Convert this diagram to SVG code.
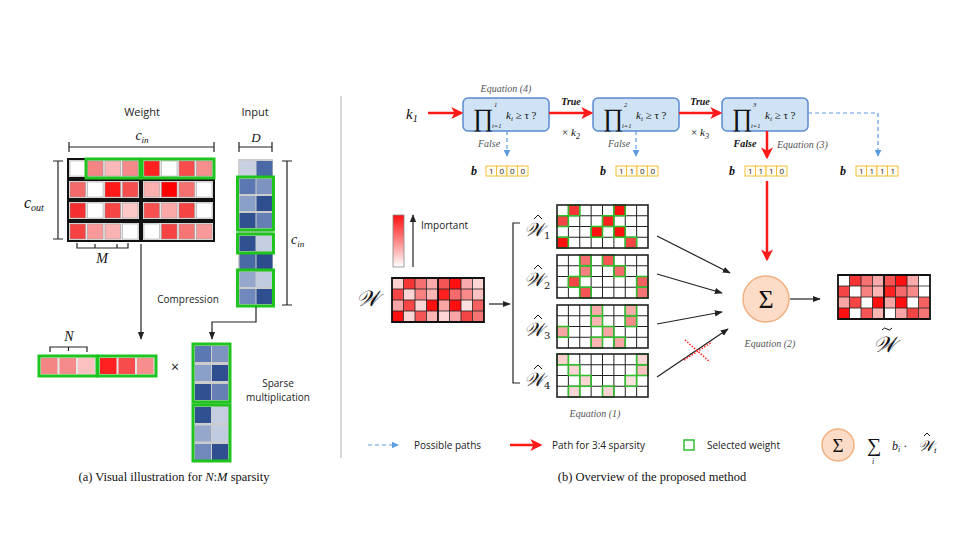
<svg xmlns="http://www.w3.org/2000/svg" width="960" height="540" viewBox="0 0 960 540">
<style>
.sans{font-family:"Open Sans","Liberation Sans",sans-serif;fill:#222}
.serif{font-family:"Liberation Serif","DejaVu Serif",serif;fill:#111}
.it{font-style:italic}
.bd{font-weight:bold}
.eq{font-family:"Liberation Serif","DejaVu Serif",serif;font-style:italic;fill:#555;font-size:10px}
.scr{font-family:"DejaVu Serif","Liberation Serif",serif;font-style:italic;fill:#111}
.acc{fill:none;stroke:#111;stroke-width:1;stroke-linejoin:miter}
.grp{fill:#e6e6e6;stroke:#111;stroke-width:2}
.grn{fill:none;stroke:#1fc41f;stroke-width:3}
.sel{fill:none;stroke:#2fbf2f;stroke-width:1.6}
.box{fill:#cfe3f4;stroke:#5b8bd0;stroke-width:1.5}
.bit{fill:#fffdf2;stroke:#f2c038;stroke-width:1}
.bt{font-family:"Open Sans","Liberation Sans",sans-serif;font-size:8px;fill:#222;text-anchor:middle}
.blk{stroke:#222;stroke-width:1.2;fill:none}
.red{stroke:#ff1a1a;stroke-width:2.5;fill:none}
.blue{stroke:#5b9be0;stroke-width:1.2;fill:none;stroke-dasharray:4 3}
.grid{fill:none;stroke:#222;stroke-width:1}
</style>
<defs>
<marker id="mb" markerUnits="userSpaceOnUse" markerWidth="8" markerHeight="8" viewBox="0 0 10 10" refX="9" refY="5" orient="auto"><path d="M0,1 L10,5 L0,9 z" fill="#222"/></marker>
<marker id="mr" markerUnits="userSpaceOnUse" markerWidth="12" markerHeight="12" viewBox="0 0 10 10" refX="8" refY="5" orient="auto"><path d="M0,0 L10,5 L0,10 L2.5,5 z" fill="#ff1a1a"/></marker>
<marker id="mbl" markerUnits="userSpaceOnUse" markerWidth="7" markerHeight="7" viewBox="0 0 10 10" refX="9" refY="5" orient="auto"><path d="M0,0 L10,5 L0,10 z" fill="#5b9be0"/></marker>
<linearGradient id="imp" x1="0" y1="0" x2="0" y2="1"><stop offset="0" stop-color="#ff1010"/><stop offset="1" stop-color="#ffffff"/></linearGradient>
<path id="gH" d="M11.375 0V43M22.75 0V43M34.125 0V43M45.5 0V43M56.875 0V43M68.25 0V43M79.625 0V43M0 10.75H91M0 21.5H91M0 32.25H91" class="grid"/>
<rect id="bH" width="91" height="43" fill="none" stroke="#222" stroke-width="1.6"/>
<path id="gW" d="M11.5 0V44M23 0V44M34.5 0V44M57.5 0V44M69 0V44M80.5 0V44M0 11H92M0 22H92M0 33H92" fill="none" stroke="#222" stroke-width="0.8"/>
<path id="bW" d="M0 0H92V44H0ZM46 0V44" fill="none" stroke="#111" stroke-width="1.8"/>
</defs>

<!-- ============ LEFT PANEL ============ -->
<g id="left-labels">
<text x="142" y="116" class="sans" font-size="11" text-anchor="middle">Weight</text>
<text x="255" y="116" class="sans" font-size="11" text-anchor="middle">Input</text>
<text x="142" y="140" class="serif it" font-size="14" text-anchor="middle">c<tspan font-size="9" dy="3">in</tspan></text>
<path d="M69 147H214M69 142V152M214 142V152" class="blk"/>
<text x="256" y="142" class="serif it" font-size="13" text-anchor="middle">D</text>
<path d="M239 147H272M239 142V152M272 142V152" class="blk"/>
<text x="24" y="208" class="serif it" font-size="16">c<tspan font-size="10" dy="3">out</tspan></text>
<path d="M58 161V239M53 161H63M53 239H63" class="blk"/>
<text x="291" y="244" class="serif it" font-size="14">c<tspan font-size="9" dy="3">in</tspan></text>
<path d="M287 161V305M282 161H292M282 305H292" class="blk"/>
<path d="M77 243V248H128V243M95 248V244M117 248V244" class="blk"/>
<text x="102" y="263" class="serif it" font-size="14" text-anchor="middle">M</text>
<text x="188" y="303" class="sans" font-size="10" text-anchor="middle">Compression</text>
<text x="175" y="372" class="sans" font-size="14" text-anchor="middle">×</text>
<text x="278" y="387" class="sans" font-size="10" text-anchor="middle">Sparse</text>
<text x="278" y="401" class="sans" font-size="10" text-anchor="middle">multiplication</text>
<path d="M50 352V347H87V352M68.5 347V351" class="blk"/>
<text x="69" y="341" class="serif it" font-size="14" text-anchor="middle">N</text>
<text x="174" y="481" class="serif" font-size="12.5" text-anchor="middle">(a) Visual illustration for <tspan font-style="italic">N</tspan>:<tspan font-style="italic">M</tspan> sparsity</text>
</g>

<g id="weight-matrix">
<rect x="68" y="159" width="72" height="19" class="grp"/><rect x="142" y="159" width="72" height="19" class="grp"/>
<rect x="68" y="180" width="72" height="19" class="grp"/><rect x="142" y="180" width="72" height="19" class="grp"/>
<rect x="68" y="201" width="72" height="19" class="grp"/><rect x="142" y="201" width="72" height="19" class="grp"/>
<rect x="68" y="222" width="72" height="19" class="grp"/><rect x="142" y="222" width="72" height="19" class="grp"/>
<g stroke="#999" stroke-width="0.5">
<rect x="70" y="161" width="15.5" height="15" fill="#ffffff"/><rect x="87.5" y="161" width="15.5" height="15" fill="#f38585"/><rect x="105" y="161" width="15.5" height="15" fill="#fbb8b8"/><rect x="122.5" y="161" width="15.5" height="15" fill="#f48a8a"/>
<rect x="144" y="161" width="15.5" height="15" fill="#ff2020"/><rect x="161.5" y="161" width="15.5" height="15" fill="#ffffff"/><rect x="179" y="161" width="15.5" height="15" fill="#f64c4c"/><rect x="196.5" y="161" width="15.5" height="15" fill="#f68e8e"/>
<rect x="70" y="182" width="15.5" height="15" fill="#f46a6a"/><rect x="87.5" y="182" width="15.5" height="15" fill="#ffffff"/><rect x="105" y="182" width="15.5" height="15" fill="#ff1a1a"/><rect x="122.5" y="182" width="15.5" height="15" fill="#f54e4e"/>
<rect x="144" y="182" width="15.5" height="15" fill="#fbb0b0"/><rect x="161.5" y="182" width="15.5" height="15" fill="#ff0000"/><rect x="179" y="182" width="15.5" height="15" fill="#f57070"/><rect x="196.5" y="182" width="15.5" height="15" fill="#ffffff"/>
<rect x="70" y="203" width="15.5" height="15" fill="#f52f2f"/><rect x="87.5" y="203" width="15.5" height="15" fill="#ffffff"/><rect x="105" y="203" width="15.5" height="15" fill="#f54545"/><rect x="122.5" y="203" width="15.5" height="15" fill="#fcc8c8"/>
<rect x="144" y="203" width="15.5" height="15" fill="#f65050"/><rect x="161.5" y="203" width="15.5" height="15" fill="#fba8a8"/><rect x="179" y="203" width="15.5" height="15" fill="#f54444"/><rect x="196.5" y="203" width="15.5" height="15" fill="#ffffff"/>
<rect x="70" y="224" width="15.5" height="15" fill="#f54343"/><rect x="87.5" y="224" width="15.5" height="15" fill="#f89898"/><rect x="105" y="224" width="15.5" height="15" fill="#fbb4b4"/><rect x="122.5" y="224" width="15.5" height="15" fill="#ffffff"/>
<rect x="144" y="224" width="15.5" height="15" fill="#ffffff"/><rect x="161.5" y="224" width="15.5" height="15" fill="#f64444"/><rect x="179" y="224" width="15.5" height="15" fill="#f57575"/><rect x="196.5" y="224" width="15.5" height="15" fill="#f89a9a"/>
</g>
<rect x="86" y="159" width="54" height="19" class="grn"/>
<rect x="142" y="159" width="72" height="19" class="grn"/>
</g>

<g id="input-column">
<rect x="238" y="159" width="35" height="147" fill="#cccccc"/>
<g>
<rect x="239.5" y="161" width="16" height="15" fill="#c8d0e2"/><rect x="256.5" y="161" width="16" height="15" fill="#4a69a6"/>
<rect x="239.5" y="179" width="16" height="15" fill="#5b78b2"/><rect x="256.5" y="179" width="16" height="15" fill="#7f93c0"/>
<rect x="239.5" y="196" width="16" height="15" fill="#8aa0c9"/><rect x="256.5" y="196" width="16" height="15" fill="#2f4f90"/>
<rect x="239.5" y="213" width="16" height="15" fill="#30508f"/><rect x="256.5" y="213" width="16" height="15" fill="#6680b5"/>
<rect x="239.5" y="236" width="16" height="15" fill="#30508f"/><rect x="256.5" y="236" width="16" height="15" fill="#c5cde0"/>
<rect x="239.5" y="254" width="16" height="15" fill="#4a6aa5"/><rect x="256.5" y="254" width="16" height="15" fill="#2c4c8c"/>
<rect x="239.5" y="272" width="16" height="15" fill="#95a8cc"/><rect x="256.5" y="272" width="16" height="15" fill="#c0cbe0"/>
<rect x="239.5" y="289" width="16" height="15" fill="#7088bb"/><rect x="256.5" y="289" width="16" height="15" fill="#2f4f90"/>
</g>
<rect x="237.5" y="177" width="36" height="53" class="grn"/>
<rect x="237.5" y="234" width="36" height="19" class="grn"/>
<rect x="237.5" y="270" width="36" height="36" class="grn"/>
</g>

<g id="compressed-weight">
<rect x="39" y="356" width="58" height="20" fill="#e6e6e6"/>
<rect x="98" y="356" width="58" height="20" fill="#e6e6e6"/>
<rect x="41" y="358" width="16.5" height="16" fill="#f38585"/><rect x="59.5" y="358" width="16.5" height="16" fill="#f48a8a"/><rect x="78" y="358" width="16.5" height="16" fill="#fbc0c0"/>
<rect x="100" y="358" width="16.5" height="16" fill="#ff2020"/><rect x="118.5" y="358" width="16.5" height="16" fill="#f64c4c"/><rect x="137" y="358" width="16.5" height="16" fill="#f68e8e"/>
<rect x="39" y="356" width="58" height="20" class="grn"/>
<rect x="98" y="356" width="58" height="20" class="grn"/>
</g>

<g id="sparse-input">
<rect x="193" y="344" width="37" height="117" fill="#cccccc"/>
<rect x="195" y="346" width="16" height="16" fill="#5b78b2"/><rect x="212" y="346" width="16" height="16" fill="#7f93c0"/>
<rect x="195" y="365" width="16" height="16" fill="#8aa0c9"/><rect x="212" y="365" width="16" height="16" fill="#2f4f90"/>
<rect x="195" y="384" width="16" height="16" fill="#30508f"/><rect x="212" y="384" width="16" height="16" fill="#6680b5"/>
<rect x="195" y="407" width="16" height="16" fill="#30508f"/><rect x="212" y="407" width="16" height="16" fill="#c5cde0"/>
<rect x="195" y="425.5" width="16" height="16" fill="#95a8cc"/><rect x="212" y="425.5" width="16" height="16" fill="#c0cbe0"/>
<rect x="195" y="444" width="16" height="16" fill="#7088bb"/><rect x="212" y="444" width="16" height="16" fill="#2f4f90"/>
<rect x="193" y="344" width="37" height="58" class="grn"/>
<rect x="193" y="405" width="37" height="56" class="grn"/>
</g>

<g id="left-connectors">
<path d="M141 244V339" class="blk" marker-end="url(#mb)"/>
<path d="M256 307V322H212V339" class="blk" marker-end="url(#mb)"/>
</g>

<line x1="341" y1="96" x2="341" y2="458" stroke="#999" stroke-width="0.8"/>

<!-- ============ RIGHT PANEL ============ -->
<g id="k1"><text x="406" y="119" class="serif it" font-size="15">k<tspan font-size="10" dy="3">1</tspan></text></g>

<g id="box1">
<rect x="463" y="98" width="86" height="33" rx="5" class="box"/>
<text x="473" y="126" class="serif" font-size="25">∏</text>
<text x="494" y="107" class="serif it" font-size="6.5">1</text>
<text x="492" y="128" class="serif it" font-size="6.5">i=1</text>
<text x="506" y="119" class="serif it" font-size="11">k<tspan font-size="7" dy="2">i</tspan><tspan dy="-2" font-style="normal"> ≥ τ ?</tspan></text>
<text x="506" y="92" class="eq" text-anchor="middle">Equation (4)</text>
</g>
<g id="box2">
<rect x="593" y="98" width="86" height="33" rx="5" class="box"/>
<text x="603" y="126" class="serif" font-size="25">∏</text>
<text x="624" y="107" class="serif it" font-size="6.5">2</text>
<text x="622" y="128" class="serif it" font-size="6.5">i=1</text>
<text x="636" y="119" class="serif it" font-size="11">k<tspan font-size="7" dy="2">i</tspan><tspan dy="-2" font-style="normal"> ≥ τ ?</tspan></text>
</g>
<g id="box3">
<rect x="722" y="98" width="86" height="33" rx="5" class="box"/>
<text x="732" y="126" class="serif" font-size="25">∏</text>
<text x="753" y="107" class="serif it" font-size="6.5">3</text>
<text x="751" y="128" class="serif it" font-size="6.5">i=1</text>
<text x="765" y="119" class="serif it" font-size="11">k<tspan font-size="7" dy="2">i</tspan><tspan dy="-2" font-style="normal"> ≥ τ ?</tspan></text>
</g>

<g id="flow-labels">
<text x="571" y="105" class="serif it bd" font-size="10" text-anchor="middle">True</text>
<text x="571" y="136" class="serif" font-size="11" text-anchor="middle">× <tspan font-style="italic">k</tspan><tspan font-size="8" dy="3" font-style="italic">2</tspan></text>
<text x="700" y="105" class="serif it bd" font-size="10" text-anchor="middle">True</text>
<text x="700" y="136" class="serif" font-size="11" text-anchor="middle">× <tspan font-style="italic">k</tspan><tspan font-size="8" dy="3" font-style="italic">3</tspan></text>
<text x="489" y="147" class="eq" font-size="9.5" text-anchor="middle">False</text>
<text x="619" y="147" class="eq" font-size="9.5" text-anchor="middle">False</text>
<text x="745" y="147" class="serif it bd" font-size="10" text-anchor="middle">False</text>
<text x="777" y="148" class="eq">Equation (3)</text>
</g>

<g id="bits1">
<text x="474" y="175" class="serif it bd" font-size="12" text-anchor="middle">b</text>
<rect x="486" y="166" width="10.5" height="10" class="bit"/><rect x="496.5" y="166" width="10.5" height="10" class="bit"/><rect x="507" y="166" width="10.5" height="10" class="bit"/><rect x="517.5" y="166" width="10.5" height="10" class="bit"/>
<text x="491.25" y="174" class="bt">1</text><text x="501.75" y="174" class="bt">0</text><text x="512.25" y="174" class="bt">0</text><text x="522.75" y="174" class="bt">0</text>
</g>
<g id="bits2">
<text x="603" y="175" class="serif it bd" font-size="12" text-anchor="middle">b</text>
<rect x="616" y="166" width="10.5" height="10" class="bit"/><rect x="626.5" y="166" width="10.5" height="10" class="bit"/><rect x="637" y="166" width="10.5" height="10" class="bit"/><rect x="647.5" y="166" width="10.5" height="10" class="bit"/>
<text x="621.25" y="174" class="bt">1</text><text x="631.75" y="174" class="bt">1</text><text x="642.25" y="174" class="bt">0</text><text x="652.75" y="174" class="bt">0</text>
</g>
<g id="bits3">
<text x="732" y="175" class="serif it bd" font-size="12" text-anchor="middle">b</text>
<rect x="745" y="166" width="10.5" height="10" class="bit"/><rect x="755.5" y="166" width="10.5" height="10" class="bit"/><rect x="766" y="166" width="10.5" height="10" class="bit"/><rect x="776.5" y="166" width="10.5" height="10" class="bit"/>
<text x="750.25" y="174" class="bt">1</text><text x="760.75" y="174" class="bt">1</text><text x="771.25" y="174" class="bt">1</text><text x="781.75" y="174" class="bt">0</text>
</g>
<g id="bits4">
<text x="843" y="175" class="serif it bd" font-size="12" text-anchor="middle">b</text>
<rect x="856" y="166" width="10.5" height="10" class="bit"/><rect x="866.5" y="166" width="10.5" height="10" class="bit"/><rect x="877" y="166" width="10.5" height="10" class="bit"/><rect x="887.5" y="166" width="10.5" height="10" class="bit"/>
<text x="861.25" y="174" class="bt">1</text><text x="871.75" y="174" class="bt">1</text><text x="882.25" y="174" class="bt">1</text><text x="892.75" y="174" class="bt">1</text>
</g>

<g id="importance">
<rect x="393" y="215" width="11" height="52" fill="url(#imp)" stroke="#888" stroke-width="0.8"/>
<path d="M413 267V215" class="blk" stroke-width="1" marker-end="url(#mb)"/>
<text x="421" y="229" class="sans" font-size="10">Important</text>
</g>

<g id="W">
<text x="356" y="306" class="scr" font-size="22">𝒲</text>
<g transform="translate(392,278)">
<rect width="92" height="44" fill="#fff"/>
<rect x="0" y="0" width="11.5" height="11" fill="#fdd0d0"/><rect x="11.5" y="0" width="11.5" height="11" fill="#f53535"/><rect x="23" y="0" width="11.5" height="11" fill="#f57070"/><rect x="34.5" y="0" width="11.5" height="11" fill="#f9aaaa"/><rect x="46" y="0" width="11.5" height="11" fill="#f55555"/><rect x="57.5" y="0" width="11.5" height="11" fill="#ff1010"/><rect x="69" y="0" width="11.5" height="11" fill="#f9aaaa"/><rect x="80.5" y="0" width="11.5" height="11" fill="#fdd5d5"/>
<rect x="0" y="11" width="11.5" height="11" fill="#f54545"/><rect x="11.5" y="11" width="11.5" height="11" fill="#fdd5d5"/><rect x="23" y="11" width="11.5" height="11" fill="#f78080"/><rect x="34.5" y="11" width="11.5" height="11" fill="#fbb5b5"/><rect x="46" y="11" width="11.5" height="11" fill="#ff2020"/><rect x="57.5" y="11" width="11.5" height="11" fill="#f56a6a"/><rect x="69" y="11" width="11.5" height="11" fill="#f88a8a"/><rect x="80.5" y="11" width="11.5" height="11" fill="#fbc0c0"/>
<rect x="0" y="22" width="11.5" height="11" fill="#f9a5a5"/><rect x="11.5" y="22" width="11.5" height="11" fill="#f54545"/><rect x="23" y="22" width="11.5" height="11" fill="#fdd5d5"/><rect x="34.5" y="22" width="11.5" height="11" fill="#ff1010"/><rect x="46" y="22" width="11.5" height="11" fill="#f9a5a5"/><rect x="57.5" y="22" width="11.5" height="11" fill="#ff1010"/><rect x="69" y="22" width="11.5" height="11" fill="#fde0e0"/><rect x="80.5" y="22" width="11.5" height="11" fill="#f56060"/>
<rect x="0" y="33" width="11.5" height="11" fill="#ff1010"/><rect x="11.5" y="33" width="11.5" height="11" fill="#fdd5d5"/><rect x="23" y="33" width="11.5" height="11" fill="#f55555"/><rect x="34.5" y="33" width="11.5" height="11" fill="#fbb5b5"/><rect x="46" y="33" width="11.5" height="11" fill="#fdd5d5"/><rect x="57.5" y="33" width="11.5" height="11" fill="#f9a5a5"/><rect x="69" y="33" width="11.5" height="11" fill="#f54545"/><rect x="80.5" y="33" width="11.5" height="11" fill="#f57575"/>
<use href="#gW"/><use href="#bW"/>
</g>
</g>

<g id="bracket">
<path d="M520 223H513V383H520" class="blk" stroke-width="1.5"/>
</g>

<g id="W1">
<text x="524" y="236" class="scr" font-size="19">𝒲<tspan font-size="10" font-style="normal" dy="3">1</tspan></text>
<path d="M534 219L538 215L542 219" class="acc"/>
<g transform="translate(557,205)">
<rect width="91" height="43" fill="#fff"/>
<rect x="11.375" y="0" width="11.375" height="10.75" fill="#f53535"/><rect x="56.875" y="0" width="11.375" height="10.75" fill="#ff1010"/>
<rect x="0" y="10.75" width="11.375" height="10.75" fill="#f54545"/><rect x="45.5" y="10.75" width="11.375" height="10.75" fill="#ff2020"/>
<rect x="34.125" y="21.5" width="11.375" height="10.75" fill="#ff1010"/><rect x="56.875" y="21.5" width="11.375" height="10.75" fill="#ff1010"/>
<rect x="0" y="32.25" width="11.375" height="10.75" fill="#ff1010"/><rect x="68.25" y="32.25" width="11.375" height="10.75" fill="#f54545"/>
<use href="#gH"/>
<rect x="11.375" y="0" width="11.375" height="10.75" class="sel"/><rect x="56.875" y="0" width="11.375" height="10.75" class="sel"/>
<rect x="0" y="10.75" width="11.375" height="10.75" class="sel"/><rect x="45.5" y="10.75" width="11.375" height="10.75" class="sel"/>
<rect x="34.125" y="21.5" width="11.375" height="10.75" class="sel"/><rect x="56.875" y="21.5" width="11.375" height="10.75" class="sel"/>
<rect x="0" y="32.25" width="11.375" height="10.75" class="sel"/><rect x="68.25" y="32.25" width="11.375" height="10.75" class="sel"/>
<use href="#bH"/>
</g>
</g>

<g id="W2">
<text x="524" y="286" class="scr" font-size="19">𝒲<tspan font-size="10" font-style="normal" dy="3">2</tspan></text>
<path d="M534 269L538 265L542 269" class="acc"/>
<g transform="translate(557,255)">
<rect width="91" height="43" fill="#fff"/>
<rect x="22.75" y="0" width="11.375" height="10.75" fill="#f57070"/><rect x="45.5" y="0" width="11.375" height="10.75" fill="#f55555"/>
<rect x="22.75" y="10.75" width="11.375" height="10.75" fill="#f78080"/><rect x="56.875" y="10.75" width="11.375" height="10.75" fill="#f56a6a"/>
<rect x="11.375" y="21.5" width="11.375" height="10.75" fill="#f54545"/><rect x="79.625" y="21.5" width="11.375" height="10.75" fill="#f56060"/>
<rect x="22.75" y="32.25" width="11.375" height="10.75" fill="#f55555"/><rect x="79.625" y="32.25" width="11.375" height="10.75" fill="#f57575"/>
<use href="#gH"/>
<rect x="22.75" y="0" width="11.375" height="10.75" class="sel"/><rect x="45.5" y="0" width="11.375" height="10.75" class="sel"/>
<rect x="22.75" y="10.75" width="11.375" height="10.75" class="sel"/><rect x="56.875" y="10.75" width="11.375" height="10.75" class="sel"/>
<rect x="11.375" y="21.5" width="11.375" height="10.75" class="sel"/><rect x="79.625" y="21.5" width="11.375" height="10.75" class="sel"/>
<rect x="22.75" y="32.25" width="11.375" height="10.75" class="sel"/><rect x="79.625" y="32.25" width="11.375" height="10.75" class="sel"/>
<use href="#bH"/>
</g>
</g>

<g id="W3">
<text x="524" y="336" class="scr" font-size="19">𝒲<tspan font-size="10" font-style="normal" dy="3">3</tspan></text>
<path d="M534 319L538 315L542 319" class="acc"/>
<g transform="translate(557,305)">
<rect width="91" height="43" fill="#fff"/>
<rect x="34.125" y="0" width="11.375" height="10.75" fill="#f9aaaa"/><rect x="68.25" y="0" width="11.375" height="10.75" fill="#f9aaaa"/>
<rect x="34.125" y="10.75" width="11.375" height="10.75" fill="#fbb5b5"/><rect x="68.25" y="10.75" width="11.375" height="10.75" fill="#f88a8a"/>
<rect x="0" y="21.5" width="11.375" height="10.75" fill="#f9a5a5"/><rect x="45.5" y="21.5" width="11.375" height="10.75" fill="#f9a5a5"/>
<rect x="34.125" y="32.25" width="11.375" height="10.75" fill="#fbb5b5"/><rect x="56.875" y="32.25" width="11.375" height="10.75" fill="#f9a5a5"/>
<use href="#gH"/>
<rect x="34.125" y="0" width="11.375" height="10.75" class="sel"/><rect x="68.25" y="0" width="11.375" height="10.75" class="sel"/>
<rect x="34.125" y="10.75" width="11.375" height="10.75" class="sel"/><rect x="68.25" y="10.75" width="11.375" height="10.75" class="sel"/>
<rect x="0" y="21.5" width="11.375" height="10.75" class="sel"/><rect x="45.5" y="21.5" width="11.375" height="10.75" class="sel"/>
<rect x="34.125" y="32.25" width="11.375" height="10.75" class="sel"/><rect x="56.875" y="32.25" width="11.375" height="10.75" class="sel"/>
<use href="#bH"/>
</g>
</g>

<g id="W4">
<text x="524" y="386" class="scr" font-size="19">𝒲<tspan font-size="10" font-style="normal" dy="3">4</tspan></text>
<path d="M534 369L538 365L542 369" class="acc"/>
<g transform="translate(557,354)">
<rect width="91" height="43" fill="#fff"/>
<rect x="0" y="0" width="11.375" height="10.75" fill="#fdd0d0"/><rect x="79.625" y="0" width="11.375" height="10.75" fill="#fdd5d5"/>
<rect x="11.375" y="10.75" width="11.375" height="10.75" fill="#fdd5d5"/><rect x="79.625" y="10.75" width="11.375" height="10.75" fill="#fbc0c0"/>
<rect x="22.75" y="21.5" width="11.375" height="10.75" fill="#fdd5d5"/><rect x="68.25" y="21.5" width="11.375" height="10.75" fill="#fde0e0"/>
<rect x="11.375" y="32.25" width="11.375" height="10.75" fill="#fdd5d5"/><rect x="45.5" y="32.25" width="11.375" height="10.75" fill="#fdd5d5"/>
<use href="#gH"/>
<rect x="0" y="0" width="11.375" height="10.75" class="sel"/><rect x="79.625" y="0" width="11.375" height="10.75" class="sel"/>
<rect x="11.375" y="10.75" width="11.375" height="10.75" class="sel"/><rect x="79.625" y="10.75" width="11.375" height="10.75" class="sel"/>
<rect x="22.75" y="21.5" width="11.375" height="10.75" class="sel"/><rect x="68.25" y="21.5" width="11.375" height="10.75" class="sel"/>
<rect x="11.375" y="32.25" width="11.375" height="10.75" class="sel"/><rect x="45.5" y="32.25" width="11.375" height="10.75" class="sel"/>
<use href="#bH"/>
</g>
</g>
<text x="595" y="417" class="eq" text-anchor="middle">Equation (1)</text>

<g id="sum">
<circle cx="766" cy="299" r="23" fill="#fcdcc6" stroke="#f0b080" stroke-width="1.5"/>
<text x="766" y="308" class="serif" font-size="26" text-anchor="middle">Σ</text>
<text x="770" y="347" class="eq" text-anchor="middle">Equation (2)</text>
</g>

<g id="W-tilde">
<g transform="translate(838,275)">
<rect width="92" height="44" fill="#fff"/>
<rect x="11.5" y="0" width="11.5" height="11" fill="#f53535"/><rect x="23" y="0" width="11.5" height="11" fill="#f57070"/><rect x="34.5" y="0" width="11.5" height="11" fill="#f9aaaa"/><rect x="46" y="0" width="11.5" height="11" fill="#f55555"/><rect x="57.5" y="0" width="11.5" height="11" fill="#ff1010"/><rect x="69" y="0" width="11.5" height="11" fill="#f9aaaa"/>
<rect x="0" y="11" width="11.5" height="11" fill="#f54545"/><rect x="23" y="11" width="11.5" height="11" fill="#f78080"/><rect x="34.5" y="11" width="11.5" height="11" fill="#fbb5b5"/><rect x="46" y="11" width="11.5" height="11" fill="#ff2020"/><rect x="57.5" y="11" width="11.5" height="11" fill="#f56a6a"/><rect x="69" y="11" width="11.5" height="11" fill="#f88a8a"/>
<rect x="0" y="22" width="11.5" height="11" fill="#f9a5a5"/><rect x="11.5" y="22" width="11.5" height="11" fill="#f54545"/><rect x="34.5" y="22" width="11.5" height="11" fill="#ff1010"/><rect x="46" y="22" width="11.5" height="11" fill="#f9a5a5"/><rect x="57.5" y="22" width="11.5" height="11" fill="#ff1010"/><rect x="80.5" y="22" width="11.5" height="11" fill="#f56060"/>
<rect x="0" y="33" width="11.5" height="11" fill="#ff1010"/><rect x="23" y="33" width="11.5" height="11" fill="#f55555"/><rect x="34.5" y="33" width="11.5" height="11" fill="#fbb5b5"/><rect x="57.5" y="33" width="11.5" height="11" fill="#f9a5a5"/><rect x="69" y="33" width="11.5" height="11" fill="#f54545"/><rect x="80.5" y="33" width="11.5" height="11" fill="#f57575"/>
<use href="#gW"/><use href="#bW"/>
</g>
<text x="873" y="352" class="scr" font-size="22">𝒲</text>
<path d="M882 330Q884.5 326.5 887 329T892 328" class="acc"/>
</g>

<g id="connectors">
<path d="M428 113H461" class="red" marker-end="url(#mr)"/>
<path d="M549 113H591" class="red" marker-end="url(#mr)"/>
<path d="M679 113H720" class="red" marker-end="url(#mr)"/>
<path d="M767 131V157" class="red" marker-end="url(#mr)"/>
<path d="M767 181V259" class="red" marker-end="url(#mr)"/>
<path d="M507 131V156" class="blue" marker-end="url(#mbl)"/>
<path d="M636 131V156" class="blue" marker-end="url(#mbl)"/>
<path d="M808 113H878V156" class="blue" marker-end="url(#mbl)"/>
<path d="M489 304H510" class="blk" marker-end="url(#mb)"/>
<path d="M657 236L730 273" class="blk" marker-end="url(#mb)"/>
<path d="M657 274L722 293" class="blk" marker-end="url(#mb)"/>
<path d="M657 324L722 312" class="blk" marker-end="url(#mb)"/>
<path d="M657 377L728 329" class="blk" marker-end="url(#mb)"/>
<path d="M685 340L710 362M684 360L712 342" stroke="#ff2020" stroke-width="1.5" stroke-dasharray="1.5 1.5" fill="none"/>
<path d="M790 299H820" class="blk" marker-end="url(#mb)"/>
</g>

<g id="legend">
<path d="M368 445H398" class="blue" marker-end="url(#mbl)"/>
<text x="414" y="449" class="sans" font-size="10">Possible paths</text>
<path d="M510 445H540" class="red" marker-end="url(#mr)"/>
<text x="552" y="449" class="sans" font-size="10">Path for 3:4 sparsity</text>
<rect x="684" y="440" width="10" height="10" fill="none" stroke="#2fbf2f" stroke-width="1.5"/>
<text x="707" y="449" class="sans" font-size="10">Selected weight</text>
<circle cx="838" cy="445" r="16" fill="#fcdcc6" stroke="#f0b080" stroke-width="1.5"/>
<text x="838" y="452" class="serif" font-size="19" text-anchor="middle">Σ</text>
<text x="867" y="452" class="serif" font-size="20">∑<tspan x="872" y="464" font-size="8" font-style="italic">i</tspan></text>
<text x="892" y="450" class="serif it" font-size="12">b<tspan font-size="8" dy="2">i</tspan><tspan dy="-2" font-style="normal"> · </tspan></text>
<text x="918" y="451" class="scr" font-size="15">𝒲<tspan font-size="8" dy="2">i</tspan></text>
<path d="M924 436L927 433L930 436" class="acc" stroke-width="0.9"/>
</g>
<text x="652" y="481" class="serif" font-size="12.5" text-anchor="middle">(b) Overview of the proposed method</text>
</svg>
